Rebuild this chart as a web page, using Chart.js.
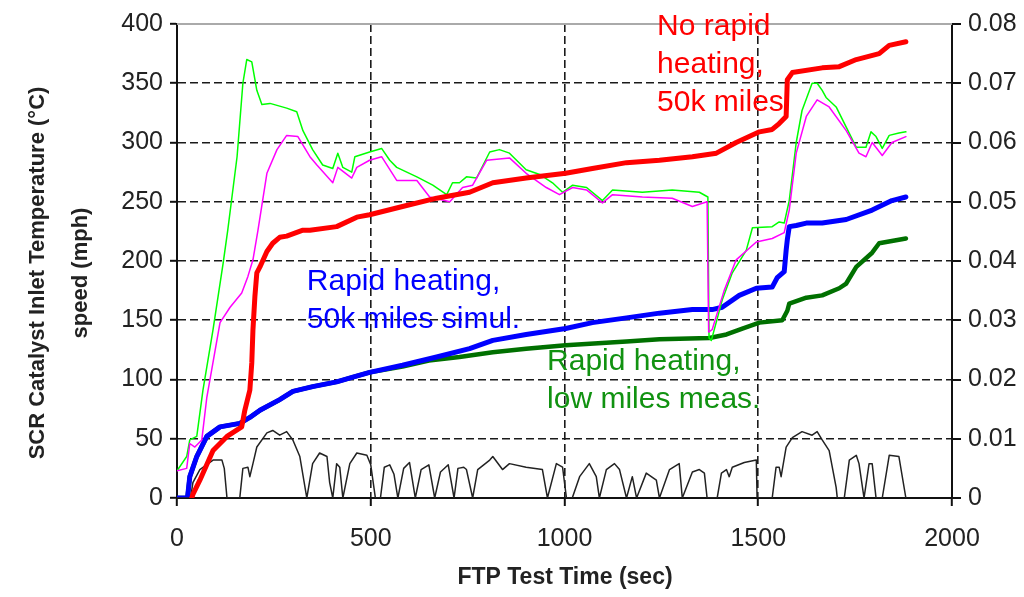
<!DOCTYPE html>
<html>
<head>
<meta charset="utf-8">
<script src="https://cdn.jsdelivr.net/npm/chart.js@4.4.1/dist/chart.umd.min.js"></script>
<style>
  html, body { margin: 0; padding: 0; background: #fff; }
  canvas { display: block; }
</style>
</head>
<body>
<canvas id="myChart" width="1024" height="597"></canvas>
<script>
// FTP test time (sec) and SCR inlet temperature (C) for each curve

const redTime = [38, 41, 59, 93, 129, 167, 175, 188, 193, 196, 201, 206, 214, 232, 247, 265, 283, 325, 343, 412, 464, 497, 582, 670, 755, 815, 901, 1003, 1072, 1160, 1245, 1330, 1392, 1443, 1503, 1536, 1554, 1572, 1575, 1588, 1665, 1709, 1753, 1812, 1838, 1881];
const redTemp = [0, 3, 15, 40, 52, 60, 74, 91, 114, 142, 170, 190, 195, 208, 215, 220, 221, 226, 226, 229, 237, 239, 246, 253, 258, 266, 270, 274, 278, 283, 285, 288, 291, 300, 309, 311, 316, 322, 353, 359, 363, 364, 370, 375, 382, 385];

const blueTime = [0, 27, 33, 51, 77, 111, 162, 188, 214, 265, 299, 350, 412, 454, 497, 582, 670, 755, 815, 901, 1003, 1072, 1160, 1245, 1330, 1381, 1407, 1451, 1495, 1536, 1549, 1567, 1572, 1575, 1580, 1598, 1624, 1665, 1727, 1794, 1845, 1881];
const blueTemp = [0, 0, 18, 35, 52, 60, 63, 68, 74, 83, 90, 94, 98, 102, 106, 112, 119, 126, 133, 138, 143, 148, 152, 156, 159, 159, 161, 171, 177, 178, 186, 191, 209, 218, 229, 230, 232, 232, 235, 243, 251, 254];

const dkGreenTime = [0, 27, 33, 51, 77, 111, 162, 188, 214, 265, 299, 350, 412, 454, 497, 582, 650, 729, 815, 901, 1003, 1160, 1245, 1374, 1418, 1459, 1503, 1562, 1575, 1580, 1624, 1665, 1709, 1727, 1753, 1794, 1812, 1881];
const dkGreenTemp = [0, 0, 18, 35, 52, 60, 63, 68, 74, 83, 90, 94, 98, 102, 106, 111, 116, 119, 123, 126, 129, 132, 134, 135, 138, 143, 148, 150, 158, 164, 169, 171, 177, 181, 195, 207, 215, 219];

const ltGreenTime = [0, 25, 33, 51, 67, 93, 119, 131, 155, 170, 180, 193, 206, 219, 240, 283, 309, 325, 350, 376, 402, 415, 428, 451, 459, 497, 528, 549, 567, 619, 660, 696, 711, 729, 747, 773, 807, 832, 858, 901, 936, 969, 995, 1021, 1057, 1098, 1124, 1201, 1278, 1348, 1370, 1373, 1379, 1407, 1433, 1469, 1485, 1536, 1554, 1567, 1580, 1598, 1613, 1639, 1652, 1665, 1675, 1701, 1727, 1753, 1778, 1791, 1804, 1820, 1838, 1863, 1881];
const ltGreenTemp = [23, 35, 49, 52, 91, 142, 198, 226, 288, 350, 370, 368, 344, 332, 333, 329, 326, 310, 294, 281, 278, 291, 279, 275, 288, 292, 295, 285, 279, 271, 264, 256, 266, 266, 271, 270, 292, 294, 291, 277, 273, 266, 258, 264, 262, 251, 260, 258, 260, 258, 254, 135, 133, 167, 190, 209, 228, 229, 233, 232, 251, 300, 327, 350, 350, 344, 338, 330, 313, 296, 296, 309, 305, 295, 306, 308, 309];

const magentaTime = [0, 25, 33, 46, 64, 77, 111, 137, 167, 183, 196, 209, 232, 258, 283, 312, 343, 361, 402, 415, 451, 464, 497, 528, 567, 619, 652, 704, 737, 763, 799, 858, 901, 953, 987, 1021, 1057, 1098, 1124, 1201, 1278, 1330, 1368, 1372, 1381, 1412, 1443, 1495, 1536, 1567, 1580, 1598, 1624, 1652, 1683, 1727, 1760, 1778, 1794, 1820, 1845, 1881];
const magentaTemp = [23, 25, 46, 43, 49, 85, 148, 161, 173, 187, 201, 226, 274, 294, 306, 305, 288, 281, 266, 279, 270, 279, 285, 288, 268, 268, 254, 250, 262, 264, 285, 287, 274, 262, 256, 262, 260, 249, 256, 254, 253, 246, 250, 140, 142, 175, 201, 216, 219, 224, 243, 291, 322, 336, 330, 310, 291, 288, 300, 289, 300, 305];

// vehicle speed (mph), same left axis
const speedTime = [0, 35, 41, 59, 93, 116, 122, 129, 162, 170, 183, 188, 196, 206, 232, 247, 265, 283, 299, 317, 335, 350, 368, 387, 394, 402, 412, 420, 428, 446, 464, 490, 500, 512, 525, 535, 549, 560, 570, 585, 600, 615, 630, 650, 665, 680, 700, 715, 725, 740, 747, 763, 776, 807, 815, 840, 858, 901, 943, 956, 979, 995, 1005, 1020, 1039, 1064, 1082, 1090, 1108, 1129, 1142, 1160, 1175, 1186, 1211, 1237, 1245, 1271, 1296, 1304, 1330, 1348, 1361, 1368, 1394, 1405, 1418, 1425, 1433, 1464, 1495, 1497, 1536, 1546, 1554, 1559, 1572, 1588, 1613, 1639, 1652, 1665, 1683, 1701, 1704, 1722, 1735, 1753, 1760, 1773, 1786, 1794, 1804, 1820, 1838, 1863, 1881];
const speedMph = [0, 0, 13, 24, 32, 32, 25, 0, 0, 25, 26, 18, 29, 43, 55, 57, 53, 56, 49, 35, 0, 29, 38, 35, 13, 0, 29, 26, 0, 29, 38, 36, 28, 0, 0, 26, 28, 20, 0, 25, 30, 0, 24, 28, 0, 22, 28, 0, 25, 26, 24, 0, 24, 32, 35, 24, 29, 26, 24, 0, 29, 26, 0, 0, 18, 29, 18, 0, 24, 29, 24, 0, 18, 0, 21, 15, 0, 24, 29, 0, 22, 24, 21, 0, 0, 21, 24, 18, 26, 30, 32, 0, 0, 26, 26, 18, 43, 51, 56, 53, 56, 49, 40, 9, 0, 0, 32, 36, 29, 0, 29, 29, 0, 0, 36, 35, 0];

const xTicks = [0, 500, 1000, 1500, 2000];
const tempTicks = [0, 50, 100, 150, 200, 250, 300, 350, 400];
const rightTicks = [0, 0.01, 0.02, 0.03, 0.04, 0.05, 0.06, 0.07, 0.08];

const FONT = "'Liberation Sans', Arial, sans-serif";

function pts(t, v) {
  return t.map((x, i) => ({ x: x, y: v[i] }));
}

function line(label, t, v, color, w) {
  return {
    label: label,
    data: pts(t, v),
    borderColor: color,
    borderWidth: w,
    pointRadius: 0,
    tension: 0,
    fill: false,
    borderJoinStyle: 'round',
    borderCapStyle: 'round',
    yAxisID: 'y'
  };
}

// labels are anchored in data units (time, temp)
const notes = [
  { lines: ['No rapid', 'heating,', '50k miles'], t: 1239, temp: 390.5, color: '#ff0000' },
  { lines: ['Rapid heating,', '50k miles simul.'], t: 335, temp: 175.5, color: '#0000ff' },
  { lines: ['Rapid heating,', 'low miles meas.'], t: 955, temp: 108, color: '#119211' }
];

const extras = {
  id: 'extras',
  beforeDatasetsDraw(chart) {
    const { ctx, chartArea } = chart;
    ctx.save();
    ctx.strokeStyle = '#aaaaaa';
    ctx.lineWidth = 2;
    ctx.beginPath();
    ctx.moveTo(chartArea.left, chartArea.top);
    ctx.lineTo(chartArea.right, chartArea.top);
    ctx.stroke();
    ctx.restore();
  },
  afterDraw(chart) {
    const { ctx, scales } = chart;
    ctx.save();
    ctx.font = '30px ' + FONT;
    ctx.textAlign = 'left';
    ctx.textBaseline = 'alphabetic';
    notes.forEach(n => {
      const x = scales.x.getPixelForValue(n.t);
      const y = scales.y.getPixelForValue(n.temp);
      ctx.fillStyle = n.color;
      n.lines.forEach((s, i) => ctx.fillText(s, x, y + i * 38));
    });

    // axis titles
    ctx.fillStyle = '#222';
    ctx.font = 'bold 23px ' + FONT;
    ctx.textAlign = 'center';
    ctx.textBaseline = 'middle';
    ctx.fillText('FTP Test Time (sec)', 565, 578);
    ctx.font = 'bold 22px ' + FONT;
    ctx.translate(0, 273);
    ctx.rotate(-Math.PI / 2);
    ctx.fillText('SCR Catalyst Inlet Temperature (\u00B0C)', 0, 38);
    ctx.fillText('speed (mph)', 0, 81);
    ctx.restore();
  }
};

const ctx = document.getElementById('myChart');

new Chart(ctx, {
  type: 'line',
  data: {
    datasets: [
      line('No rapid heating, 50k miles', redTime, redTemp, '#ff0000', 5),
      line('speed', speedTime, speedMph, '#222222', 1.5),
      line('magenta', magentaTime, magentaTemp, '#ff00ff', 1.5),
      line('light green', ltGreenTime, ltGreenTemp, '#00ff00', 1.5),
      line('Rapid heating, 50k miles simul.', blueTime, blueTemp, '#0000ff', 5),
      line('Rapid heating, low miles meas.', dkGreenTime, dkGreenTemp, '#007000', 4.5)
    ]
  },
  options: {
    responsive: false,
    animation: false,
    devicePixelRatio: 1,
    layout: { padding: { top: 24, left: 0, right: 0, bottom: 0 } },
    plugins: {
      legend: { display: false },
      tooltip: { enabled: false }
    },
    scales: {
      x: {
        type: 'linear',
        min: 0,
        max: 2000,
        afterBuildTicks: s => { s.ticks = xTicks.map(v => ({ value: v })); },
        afterFit: s => { s.height = 99; },
        ticks: {
          color: '#222',
          font: { family: FONT, size: 25 },
          padding: 18,
          maxRotation: 0,
          callback: v => String(v)
        },
        grid: {
          color: c => (c.tick && (c.tick.value === 0 || c.tick.value === 2000)) ? 'rgba(0,0,0,0)' : '#1a1a1a',
          lineWidth: 1.6,
          tickColor: '#111',
          tickWidth: 2,
          tickLength: 8
        },
        border: { color: '#111', width: 2, dash: [8, 4] }
      },
      y: {
        position: 'left',
        min: 0,
        max: 400,
        afterBuildTicks: s => { s.ticks = tempTicks.map(v => ({ value: v })); },
        afterFit: s => { s.width = 177; },
        ticks: {
          color: '#222',
          font: { family: FONT, size: 25 },
          padding: 7,
          callback: v => String(v)
        },
        grid: {
          color: c => (c.tick && (c.tick.value === 0 || c.tick.value === 400)) ? 'rgba(0,0,0,0)' : '#1a1a1a',
          lineWidth: 1.6,
          tickColor: '#111',
          tickWidth: 2,
          tickLength: 7
        },
        border: { color: '#111', width: 2, dash: [8, 4] }
      },
      y2: {
        position: 'right',
        min: 0,
        max: 0.08,
        afterBuildTicks: s => { s.ticks = rightTicks.map(v => ({ value: v })); },
        afterFit: s => { s.width = 72; },
        ticks: {
          color: '#222',
          font: { family: FONT, size: 25 },
          padding: 7,
          callback: v => v === 0 ? '0' : v.toFixed(2)
        },
        grid: {
          drawOnChartArea: false,
          color: '#111',
          lineWidth: 2,
          tickLength: 9
        },
        border: { color: '#111', width: 2 }
      }
    }
  },
  plugins: [extras]
});
</script>
</body>
</html>
